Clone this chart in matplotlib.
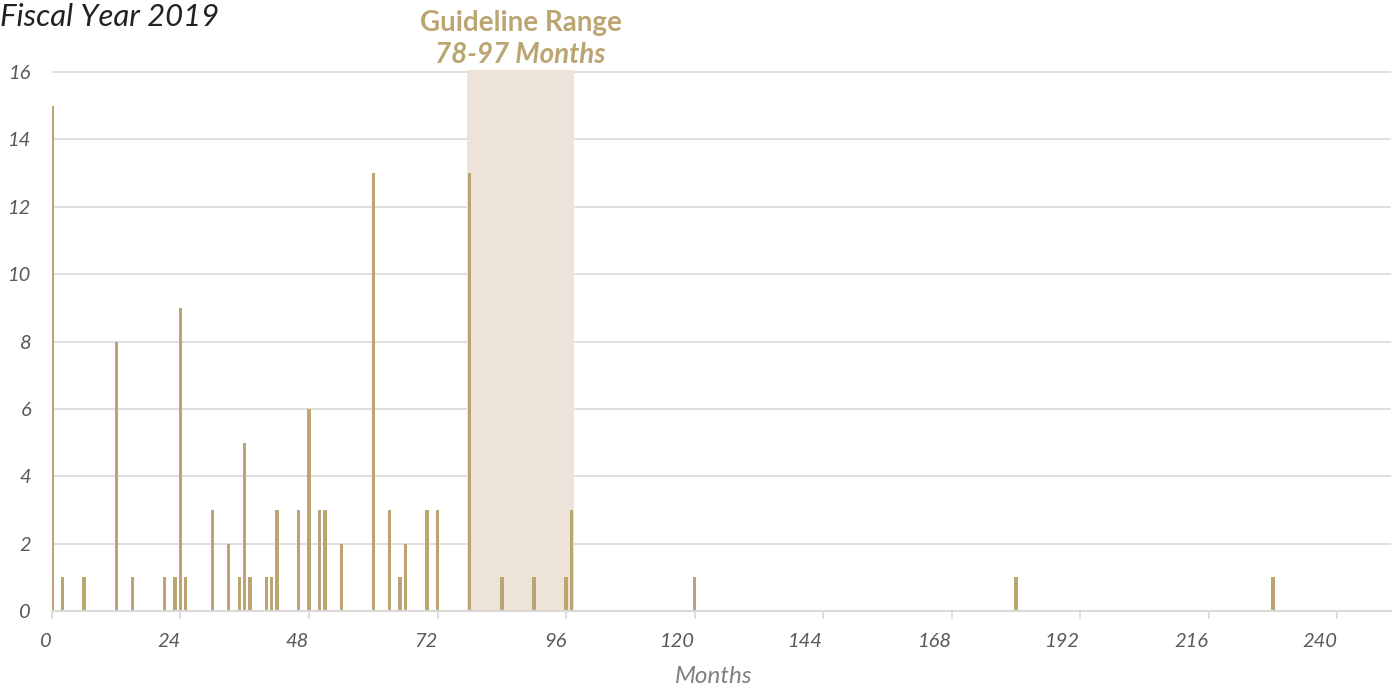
import matplotlib
matplotlib.use("Agg")
import matplotlib.pyplot as plt
from matplotlib.transforms import blended_transform_factory

# months served vs number of cases, fiscal year 2019
months = [0, 2, 6, 12, 15, 21, 23, 24, 25, 30, 33, 35, 36, 37, 40, 41, 42,
          46, 48, 50, 51, 54, 60, 63, 65, 66, 70, 72, 78, 84, 90, 96, 97,
          120, 180, 228]
counts = [15, 1, 1, 8, 1, 1, 1, 9, 1, 3, 2, 1, 5, 1, 1, 1, 3,
          3, 6, 3, 3, 2, 13, 3, 1, 2, 3, 3, 13, 1, 1, 1, 3,
          1, 1, 1]
guideline_low, guideline_high = 78, 97
x_ticks = list(range(0, 241, 24))
y_ticks = list(range(0, 17, 2))

GOLD = "#BBA572"
SHADE = "#EDE3D8"
GRID = "#D9D9D9"
TICK = "#595959"

plt.rcParams["font.family"] = ["Lato", "DejaVu Sans"]

fig = plt.figure(figsize=(13.96, 6.86), dpi=100)
ax = fig.add_axes([0.0372, 0.1093, 0.9592, 0.7892])

ax.axvspan(guideline_low - 0.5, guideline_high + 0.5, color=SHADE, zorder=1,
           lw=0)
ax.bar(months, counts, width=0.62, color=GOLD, zorder=3)

ax.set_xlim(0, 250)
ax.set_ylim(0, 16.07)
ax.set_xticks(x_ticks)
ax.set_yticks(y_ticks)
ax.grid(axis="y", color=GRID, lw=1.2, zorder=0)
ax.set_axisbelow(True)
for s in ["top", "right", "left"]:
    ax.spines[s].set_visible(False)
ax.spines["bottom"].set_color(GRID)
ax.spines["bottom"].set_linewidth(1.5)
ax.spines["bottom"].set_zorder(4)
ax.tick_params(axis="x", length=6, width=1.2, color=GRID, pad=10,
               labelsize=14.5, labelcolor=TICK)
ax.tick_params(axis="y", length=0, pad=15, labelsize=14.5, labelcolor=TICK)
for lab in ax.get_xticklabels():
    lab.set_fontstyle("italic")
    lab.set_horizontalalignment("right")
for lab in ax.get_yticklabels():
    lab.set_fontstyle("italic")

ax.set_xlabel("Months", fontsize=17.5, color="#808080", style="italic")
ax.xaxis.set_label_coords(0.494, -0.102)

fig.text(0.0, 0.995, "Fiscal Year 2019", fontsize=22.4, style="italic",
         color="#222222", ha="left", va="top")

# guideline caption above the shaded range
mid = (guideline_low + guideline_high) / 2
trans = blended_transform_factory(ax.transData, fig.transFigure)
ax.text(mid, 0.9552, "Guideline Range", transform=trans, fontsize=20,
        fontweight="bold", color=GOLD, ha="center", va="baseline")
ax.text(mid, 0.9082, "78-97 Months", transform=trans, fontsize=20,
        fontweight="bold", style="italic", color=GOLD, ha="center",
        va="baseline")

plt.savefig("out.png", dpi=100)
